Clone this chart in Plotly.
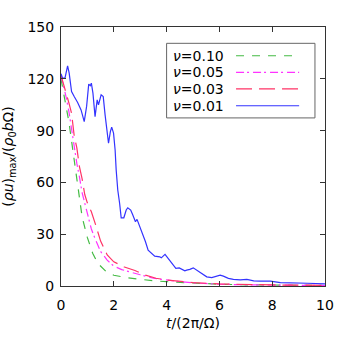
import plotly.graph_objects as go

# time in units of 2*pi/Omega, peak momentum in units of rho0*b*Omega
t_nu010 = [0, 0.1, 0.2, 0.3, 0.4, 0.5, 0.6, 0.7, 0.8, 0.9, 1.0, 1.2, 1.4, 1.7,
           2.0, 2.5, 3.0, 3.5, 4.0, 5.0, 6.0, 7.0, 8.0, 9.0, 10]
v_nu010 = [120, 112, 103, 95, 84, 73, 60, 48, 40, 34, 28, 19, 13, 8.5,
           6.2, 4.8, 3.8, 3.0, 2.5, 1.6, 1.0, 0.7, 0.5, 0.4, 0.3]

t_nu005 = [0, 0.1, 0.2, 0.3, 0.4, 0.5, 0.6, 0.7, 0.8, 0.9, 1.0, 1.15, 1.3, 1.5,
           1.75, 2.0, 2.3, 2.7, 3.0, 3.5, 4.0, 4.5, 5.0, 6.0, 7.0, 8.0, 9.0, 10]
v_nu005 = [122, 116, 109, 101, 90, 81, 71, 63, 54, 48, 42, 33, 27, 20,
           15, 11.5, 9.5, 8, 6.5, 4.5, 3.3, 2.5, 1.8, 1.0, 0.7, 0.5, 0.4, 0.3]

t_nu003 = [0, 0.1, 0.2, 0.3, 0.4, 0.5, 0.6, 0.7, 0.8, 0.9, 1.0, 1.15, 1.3, 1.5,
           1.75, 2.0, 2.4, 2.8, 3.2, 3.6, 4.0, 4.5, 5.0, 6.0, 7.0, 8.0, 9.0, 10]
v_nu003 = [122, 117, 112, 106, 100, 87, 80, 69, 62, 53, 48, 43, 36, 26,
           18, 14, 11, 9, 6.3, 4.5, 3.5, 2.8, 2.0, 1.2, 0.8, 0.6, 0.5, 0.4]

t_nu001 = [0, 0.06, 0.15, 0.25, 0.31, 0.40, 0.50, 0.63, 0.76, 0.88, 0.97, 1.05,
           1.11, 1.15, 1.21, 1.29, 1.37, 1.42, 1.52, 1.60, 1.67, 1.73, 1.80,
           1.87, 1.92, 1.99, 2.05, 2.09, 2.15, 2.22, 2.28, 2.38, 2.47, 2.53,
           2.64, 2.72, 2.82, 2.88, 2.94, 3.02, 3.10, 3.20, 3.30, 3.42, 3.55,
           3.74, 3.80, 3.94, 4.06, 4.19, 4.35, 4.48, 4.57, 4.69, 4.76, 4.88,
           5.01, 5.14, 5.33, 5.52, 5.71, 5.87, 6.03, 6.15, 6.34, 6.53, 6.79,
           7.04, 7.30, 7.55, 7.93, 8.31, 8.69, 9.33, 10.0]
v_nu001 = [122.9, 120.4, 120.4, 127.5, 123.3, 112.6, 109.7, 106.3, 102.0, 95.2,
           104.0, 116.9, 116.0, 117.5, 111.7, 98.1, 107.8, 104.9, 110.7, 109.7,
           99.1, 90.4, 82.7, 89.4, 92.0, 88.5, 78.8, 67.2, 55.6, 47.9, 39.5,
           39.5, 44.0, 45.3, 44.0, 41.1, 37.2, 38.6, 36.3, 33.4, 30.5, 25.6,
           20.8, 18.9, 17.3, 16.9, 16.3, 18.3, 16.0, 13.1, 10.2, 10.5, 9.7,
           8.8, 9.2, 9.6, 10.5, 9.2, 7.2, 5.3, 4.9, 5.7, 6.3, 5.7, 4.4, 3.8,
           3.5, 3.8, 3.0, 2.8, 2.8, 2.0, 2.0, 1.6, 1.2]

labels = ["0.10", "0.05", "0.03", "0.01"]
line_colors = ["#44bb44", "#ff33ff", "#ff3366", "#3333ff"]
line_dashes = ["8px,8px", "8px,3px,2px,4px", "16px,7px", "solid"]

FONT = "DejaVu Sans"

fig = go.Figure()

series = [(t_nu010, v_nu010), (t_nu005, v_nu005), (t_nu003, v_nu003), (t_nu001, v_nu001)]
for (t, v), col, dash in zip(series, line_colors, line_dashes):
    fig.add_trace(go.Scatter(x=t, y=v, mode="lines", showlegend=False,
                             line=dict(color=col, width=1.2, dash=dash)))

# hand-made legend: label on the left, line sample on the right
fig.add_shape(type="rect", xref="paper", yref="paper", x0=0.400, x1=0.962,
              y0=0.649, y1=0.937, line=dict(color="#666666", width=1),
              fillcolor="white", layer="above")
rows_y = [0.889, 0.825, 0.761, 0.696]
for lab, col, dash, yy in zip(labels, line_colors, line_dashes, rows_y):
    fig.add_annotation(xref="paper", yref="paper", x=0.418, y=yy,
                       xanchor="left", yanchor="middle", showarrow=False,
                       text="<i>ν</i>=" + lab, font=dict(family=FONT, size=14, color="black"))
    fig.add_shape(type="line", xref="paper", yref="paper", x0=0.663, x1=0.902,
                  y0=yy, y1=yy, line=dict(color=col, width=1.2, dash=dash), layer="above")

axis_style = dict(showline=True, linecolor="#333333", linewidth=1, mirror="ticks",
                  ticks="inside", ticklen=5, tickcolor="#333333", showgrid=False,
                  zeroline=False, automargin=False,
                  tickfont=dict(family=FONT, size=14, color="black"))

fig.update_xaxes(range=[0, 10], dtick=2, ticklabelstandoff=6,
                 title=dict(text="<i>t</i>/(2π/Ω)", standoff=6,
                            font=dict(family=FONT, size=14, color="black")),
                 **axis_style)
fig.update_yaxes(range=[0, 150], dtick=30, ticklabelstandoff=3,
                 title=dict(text="(<i>ρu</i>)<sub>max</sub>/(<i>ρ</i><sub>0</sub><i>b</i>Ω)",
                            standoff=10, font=dict(family=FONT, size=14, color="black")),
                 **axis_style)

fig.update_layout(width=342, height=342, margin=dict(l=61, r=17, t=27, b=56),
                  plot_bgcolor="white", paper_bgcolor="white")

# drop the default page margin so the figure sits at the window corner
fig.write_html("out.html", config={"displayModeBar": False},
               post_script="document.body.style.margin='0px';")
